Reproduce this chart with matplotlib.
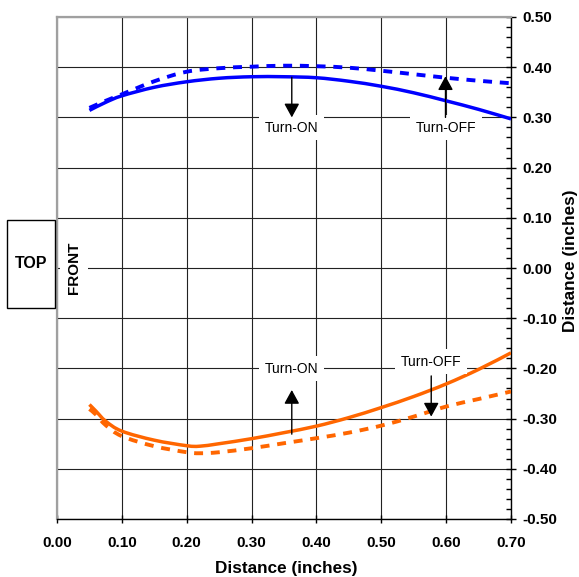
import matplotlib
matplotlib.use("Agg")
import matplotlib.pyplot as plt
from matplotlib.patches import Rectangle, PathPatch
from matplotlib.path import Path
from matplotlib.ticker import MultipleLocator, FormatStrFormatter

# ---------------- data ----------------
blue_x = [0.05, 0.075, 0.10, 0.15, 0.20, 0.25, 0.30, 0.35, 0.40, 0.45, 0.50, 0.55, 0.60, 0.65, 0.70]
blue_solid = [0.314, 0.330, 0.343, 0.360, 0.371, 0.378, 0.381, 0.381, 0.379, 0.372, 0.362, 0.349, 0.333, 0.316, 0.297]
blue_dashed = [0.319, 0.333, 0.346, 0.372, 0.391, 0.398, 0.401, 0.403, 0.402, 0.399, 0.393, 0.386, 0.379, 0.373, 0.368]

orange_x = [0.05, 0.06, 0.075, 0.10, 0.15, 0.20, 0.22, 0.25, 0.30, 0.35, 0.40, 0.45, 0.50, 0.55, 0.60, 0.65, 0.70]
orange_solid = [-0.272, -0.285, -0.305, -0.325, -0.343, -0.354, -0.355, -0.350, -0.340, -0.328, -0.315, -0.298, -0.278, -0.256, -0.231, -0.202, -0.169]
orange_dashed = [-0.281, -0.292, -0.313, -0.335, -0.355, -0.367, -0.369, -0.367, -0.359, -0.349, -0.339, -0.328, -0.314, -0.296, -0.276, -0.261, -0.246]

# annotations: (label, arrow x, arrow start y, arrow tip y, text x, text y)
annotations = [
    ("Turn-ON", 0.362, 0.380, 0.300, 0.362, 0.279),
    ("Turn-OFF", 0.599, 0.300, 0.382, 0.600, 0.279),
    ("Turn-ON", 0.362, -0.331, -0.243, 0.362, -0.201),
    ("Turn-OFF", 0.577, -0.215, -0.296, 0.577, -0.187),
]

x_ticks = [0.0, 0.1, 0.2, 0.3, 0.4, 0.5, 0.6, 0.7]
y_ticks = [-0.5, -0.4, -0.3, -0.2, -0.1, 0.0, 0.1, 0.2, 0.3, 0.4, 0.5]

BLUE = "#0000FF"
ORANGE = "#FF6600"

plt.rcParams['font.family'] = ['Liberation Sans', 'DejaVu Sans']


def smooth_path(xs, ys):
    """Catmull-Rom style smoothed path through the data points (like a smoothed line)."""
    verts = [(xs[0], ys[0])]
    codes = [Path.MOVETO]
    n = len(xs)
    for i in range(n - 1):
        x0, y0 = (xs[i - 1], ys[i - 1]) if i > 0 else (xs[i], ys[i])
        x1, y1 = xs[i], ys[i]
        x2, y2 = xs[i + 1], ys[i + 1]
        x3, y3 = (xs[i + 2], ys[i + 2]) if i + 2 < n else (xs[i + 1], ys[i + 1])
        c1 = (x1 + (x2 - x0) / 6.0, y1 + (y2 - y0) / 6.0)
        c2 = (x2 - (x3 - x1) / 6.0, y2 - (y3 - y1) / 6.0)
        verts += [c1, c2, (x2, y2)]
        codes += [Path.CURVE4, Path.CURVE4, Path.CURVE4]
    return Path(verts, codes)


fig = plt.figure(figsize=(5.79, 5.77), dpi=100)
ax = fig.add_axes([57/579, 58/577, 454/579, 502/577])

ax.set_xlim(0.0, 0.7)
ax.set_ylim(-0.5, 0.5)
ax.set_xticks(x_ticks)
ax.set_yticks(y_ticks)
ax.xaxis.set_major_formatter(FormatStrFormatter('%.2f'))
ax.yaxis.set_major_formatter(FormatStrFormatter('%.2f'))
ax.yaxis.set_minor_locator(MultipleLocator(0.02))

ax.yaxis.tick_right()
ax.yaxis.set_label_position('right')

ax.grid(True, which='major', color='#222222', linewidth=0.8, zorder=0)
ax.set_axisbelow(True)

for s in ['top', 'left']:
    ax.spines[s].set_color('#a0a0a0')
    ax.spines[s].set_linewidth(1.6)
for s in ['right', 'bottom']:
    ax.spines[s].set_color('black')
    ax.spines[s].set_linewidth(1.0)

ax.tick_params(axis='y', which='major', direction='inout', length=7, width=1,
               pad=5.0, labelsize=11)
ax.tick_params(axis='y', which='minor', direction='in', length=3.5, width=1)
ax.tick_params(axis='x', which='major', direction='inout', length=6, width=1,
               pad=9.0, labelsize=11)
for lab in ax.get_xticklabels() + ax.get_yticklabels():
    lab.set_fontweight('bold')

# curves (smoothed lines through the data points)
for xs, ys, col, dashed in [(blue_x, blue_solid, BLUE, False),
                            (blue_x, blue_dashed, BLUE, True),
                            (orange_x, orange_solid, ORANGE, False),
                            (orange_x, orange_dashed, ORANGE, True)]:
    patch = PathPatch(smooth_path(xs, ys), fill=False, edgecolor=col,
                      lw=2.8 if dashed else 2.5, zorder=3, capstyle='butt')
    if dashed:
        patch.set_linestyle((0, (2.3, 2.0)))
    ax.add_patch(patch)

# annotations
for label, ax_x, y0, y1, tx, ty in annotations:
    ax.text(tx, ty, label, ha='center', va='center', fontsize=10, zorder=5,
            bbox=dict(boxstyle='square,pad=0.4', fc='white', ec='none'))
    ax.annotate("", xy=(ax_x, y1), xytext=(ax_x, y0),
                arrowprops=dict(arrowstyle='-|>,head_length=0.42,head_width=0.23',
                                mutation_scale=20, lw=1, color='black',
                                shrinkA=0, shrinkB=0),
                zorder=6)

# axis labels
ax.set_xlabel("Distance (inches)", fontsize=12.3, fontweight='bold')
ax.xaxis.set_label_coords(229/454, -49.5/502)
ax.xaxis.label.set_verticalalignment('center')
ax.set_ylabel("Distance (inches)", fontsize=12.3, fontweight='bold', rotation=90)
ax.yaxis.set_label_coords(514/454, 258/502)
ax.yaxis.label.set_verticalalignment('center')
ax.yaxis.label.set_rotation_mode('anchor')

# FRONT label with white background
ax.text(17/454, 0.5, "FRONT", rotation=90, transform=ax.transAxes,
        ha='center', va='center', fontsize=11, fontweight='bold', zorder=5,
        bbox=dict(boxstyle='square,pad=0.45', fc='white', ec='none'))

# TOP box
fig.patches.append(Rectangle((7/579, (577-308)/577), 48/579, 88/577,
                             transform=fig.transFigure, fc='white', ec='black', lw=1))
fig.text(31/579, (577-264)/577, "TOP", ha='center', va='center',
         fontsize=11.5, fontweight='bold')

fig.savefig("out.png", dpi=100)
